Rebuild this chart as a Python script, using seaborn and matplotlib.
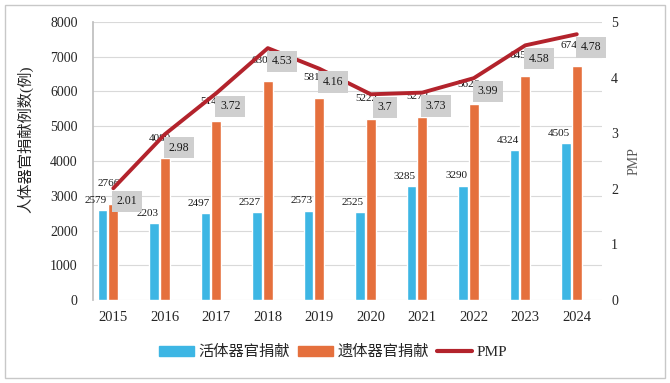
import matplotlib
matplotlib.use("Agg")
import matplotlib.pyplot as plt
from matplotlib.patches import Rectangle, Patch
from matplotlib.lines import Line2D
import seaborn as sns
import pandas as pd

years = ['2015', '2016', '2017', '2018', '2019', '2020', '2021', '2022', '2023', '2024']
living = [2579, 2203, 2497, 2527, 2573, 2525, 3285, 3290, 4324, 4505]
deceased = [2766, 4080, 5146, 6302, 5818, 5222, 5272, 5626, 6454, 6744]
pmp = [2.01, 2.98, 3.72, 4.53, 4.16, 3.70, 3.73, 3.99, 4.58, 4.78]
pmp_labels = ['2.01', '2.98', '3.72', '4.53', '4.16', '3.7', '3.73', '3.99', '4.58', '4.78']
series = ['活体器官捐献', '遗体器官捐献']

BLUE = '#3DB6E4'
ORANGE = '#E5703D'
RED = '#B3232C'

sns.set_theme(style='white')
plt.rcParams['font.family'] = ['Liberation Serif', 'Noto Sans CJK SC']

df = pd.DataFrame({
    'year': years * 2,
    'count': living + deceased,
    'type': [series[0]] * len(years) + [series[1]] * len(years),
})

fig = plt.figure(figsize=(6.7, 3.83), dpi=100)
ax = fig.add_axes([93 / 670, 83 / 383, 509 / 670, 278 / 383])

sns.barplot(data=df, x='year', y='count', hue='type', hue_order=series,
            palette=[BLUE, ORANGE], width=0.42, gap=0.1, saturation=1,
            errorbar=None, legend=False, ax=ax)

ax.set_ylim(0, 8000)
ax.set_yticks(range(0, 8001, 1000))
ax.grid(axis='y', color='#D9D9D9', lw=0.8)
ax.set_axisbelow(True)
for s in ['top', 'right', 'bottom']:
    ax.spines[s].set_visible(False)
ax.spines['left'].set_color('#BFBFBF')

# bar value labels
for bar, v in zip(ax.containers[0], living):
    ax.annotate(str(v), (bar.get_x() + bar.get_width() / 2, bar.get_height()),
                xytext=(-5, 7), textcoords='offset points',
                ha='center', va='center', fontsize=8, color='#1a1a1a')
for bar, v in zip(ax.containers[1], deceased):
    ax.annotate(str(v), (bar.get_x() + bar.get_width() / 2, bar.get_height()),
                xytext=(-3.5, 14.5), textcoords='offset points',
                ha='center', va='center', fontsize=8, color='#1a1a1a')

xs = [b.get_x() + b.get_width() / 2 for b in ax.containers[1]]
ax.set_xticks(xs, years)
ax.set_xlim(-0.29, 9.595)
ax.set_xlabel('')
ax.set_ylabel('人体器官捐献例数(例)', fontsize=11, color='#262626')
ax.yaxis.set_label_coords(-0.118, 0.58)
ax.tick_params(axis='y', length=0, pad=11, labelsize=10, colors='#262626')
ax.tick_params(axis='x', length=0, pad=8, labelsize=10.5, colors='#262626')

ax2 = ax.twinx()
sns.lineplot(x=xs, y=pmp, color=RED, lw=2.8, ax=ax2)
ax2.set_ylim(0, 5)
ax2.set_yticks(range(0, 6))
for s in ax2.spines.values():
    s.set_visible(False)
ax2.tick_params(axis='y', length=0, pad=6.5, labelsize=10, colors='#262626')
ax2.set_ylabel('PMP', fontsize=10, color='#595959')
ax2.yaxis.set_label_coords(1.051, 0.5)

for x, v, t in zip(xs, pmp, pmp_labels):
    ax2.annotate(t, (x, v), xytext=(10, -9.5), textcoords='offset points',
                 ha='center', va='center', fontsize=8.5, color='#1a1a1a',
                 bbox=dict(boxstyle='square,pad=0.4', fc='#CFCFCF', ec='none'))

handles = [Patch(color=BLUE), Patch(color=ORANGE), Line2D([], [], color=RED, lw=3)]
fig.legend(handles, series + ['PMP'], loc='center', bbox_to_anchor=(0.497, 0.081),
           ncol=3, frameon=False, fontsize=11, handlelength=2.3, handleheight=0.65,
           handletextpad=0.3, columnspacing=0.5)

fig.add_artist(Rectangle((5 / 670, 5 / 383), 660 / 670, 373 / 383,
                         transform=fig.transFigure, fill=False, ec='#C8C8C8', lw=1))

fig.savefig('out.png', dpi=100)
